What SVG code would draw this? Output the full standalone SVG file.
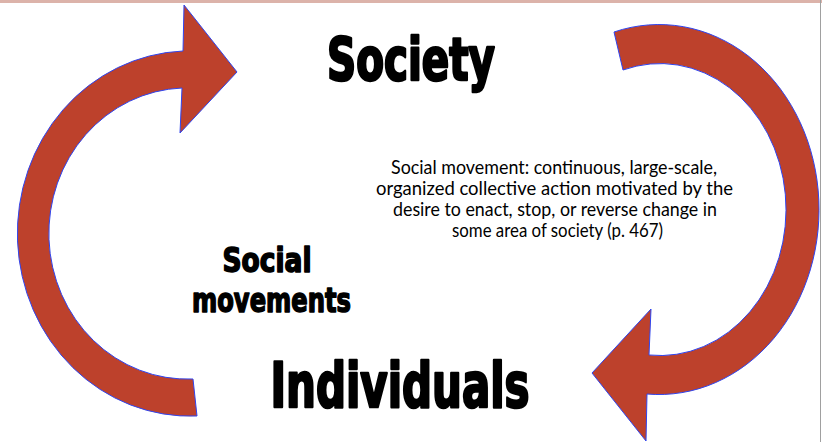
<svg xmlns="http://www.w3.org/2000/svg" width="822" height="442" viewBox="0 0 822 442">
<style>
.arrow{fill:#bd412c;stroke:#2f45f0;stroke-width:1;stroke-linejoin:miter}
.big{font-family:"Liberation Sans Narrow","DejaVu Sans Condensed","Liberation Sans",sans-serif;font-weight:bold;fill:#000;stroke:#000;stroke-linejoin:round;text-anchor:middle}
.def{font-family:Lato,"Open Sans","Liberation Sans",sans-serif;font-size:19px;fill:#000;text-anchor:middle}
</style>
<rect x="0" y="0" width="822" height="442" fill="#fff"/>
<rect x="0" y="0" width="822" height="3" fill="#dcb3aa"/>
<line x1="820.5" y1="0" x2="820.5" y2="442" stroke="#a0a0a0" stroke-width="1"/>
<g id="connectors">
<path id="arrow-left" class="arrow" d="M183,51 L184,5 L237,72 L180,133 L182,88 A138 145 0 1 0 193,379 L197,416 A172 182 0 0 1 183,51 Z"/>
<path id="arrow-right" class="arrow" d="M614,32 A160 185 0 1 1 647,394 L646,441 L592,373 L651,309 L649,355 A126 146 0 1 0 623,70 Z"/>
</g>
<g id="society">
<text class="big" x="411" y="80" font-size="58" stroke-width="2.5" textLength="168" lengthAdjust="spacingAndGlyphs">Society</text>
</g>
<g id="individuals">
<text class="big" x="400" y="407" font-size="62" stroke-width="2.5" textLength="259" lengthAdjust="spacingAndGlyphs">Individuals</text>
</g>
<g id="social-movements">
<text class="big" x="267" y="271.5" font-size="33" stroke-width="1.5" textLength="89" lengthAdjust="spacingAndGlyphs">Social</text>
<text class="big" x="271.5" y="311.5" font-size="33" stroke-width="1.5" textLength="159" lengthAdjust="spacingAndGlyphs">movements</text>
</g>
<g id="definition">
<text class="def" x="554" y="174" textLength="326" lengthAdjust="spacingAndGlyphs">Social movement: continuous, large-scale,</text>
<text class="def" x="554.5" y="195" textLength="357" lengthAdjust="spacingAndGlyphs">organized collective action motivated by the</text>
<text class="def" x="555" y="216" textLength="324" lengthAdjust="spacingAndGlyphs">desire to enact, stop, or reverse change in</text>
<text class="def" x="557.5" y="237" textLength="211" lengthAdjust="spacingAndGlyphs">some area of society (p. 467)</text>
</g>
</svg>
